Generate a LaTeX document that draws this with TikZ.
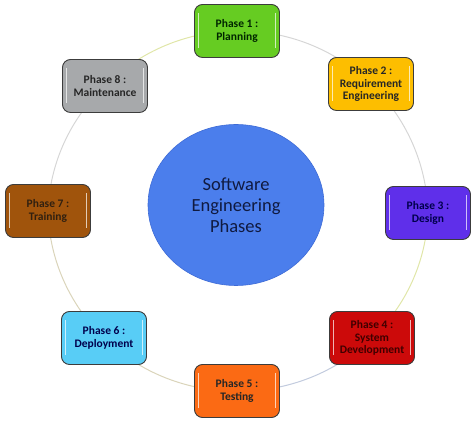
\documentclass[tikz,border=0pt]{standalone}
\usepackage{fontspec}
\setmainfont{Carlito}
\usetikzlibrary{shapes.geometric,backgrounds}
\definecolor{cA}{HTML}{66CC22}
\definecolor{cB}{HTML}{FDBE00}
\definecolor{cC}{HTML}{5F2FEA}
\definecolor{cD}{HTML}{CC0A0A}
\definecolor{cE}{HTML}{FB6A14}
\definecolor{cF}{HTML}{58CDF6}
\definecolor{cG}{HTML}{A0540C}
\definecolor{cH}{HTML}{A7A9AB}
\definecolor{boxline}{HTML}{3C3C3C}
\definecolor{hubfill}{HTML}{4B7EEC}
\definecolor{hubline}{HTML}{3E6BD6}
\definecolor{hubtext}{HTML}{101A40}
\definecolor{ringgray}{HTML}{D6D6D6}
\definecolor{ringyel}{HTML}{E0E6A8}
\definecolor{ringblue}{HTML}{C2CBDE}
\definecolor{ringbeige}{HTML}{DAD4BA}
\tikzset{
  phasebox/.style={draw=boxline, line width=0.9pt, rounded corners=8pt,
    minimum width=85pt, minimum height=53pt, inner sep=2pt,
    align=center, font=\bfseries\fontsize{11.5}{12.8}\selectfont,
    path picture={
      \draw[white, opacity=0.7, line width=1.2pt]
        ([xshift=4pt,yshift=-9pt]path picture bounding box.north west) --
        ([xshift=4pt,yshift=9pt]path picture bounding box.south west);
      \draw[white, opacity=0.7, line width=1.2pt]
        ([xshift=-4pt,yshift=-9pt]path picture bounding box.north east) --
        ([xshift=-4pt,yshift=9pt]path picture bounding box.south east);
    }},
  hub/.style={ellipse, fill=hubfill, draw=hubline, line width=0.6pt,
    minimum width=176pt, minimum height=161pt, align=center,
    text=hubtext, font=\fontsize{18.5}{21}\selectfont},
  ring/.style={line width=1pt, bend left=22.5, looseness=0.885}
}
\begin{document}
\begin{tikzpicture}[x=1pt,y=1pt]
\useasboundingbox (0,0) rectangle (474,422);
\node[hub] (hub) at (236,217) {Software\\Engineering\\Phases};
\node[phasebox, fill=cA, text={black!85!green}] (p1) at (237,391) {Phase 1 :\\Planning};
\node[phasebox, fill=cB, text=black!85] (p2) at (371,338) {Phase 2 :\\Requirement\\Engineering};
\node[phasebox, fill=cC, text={black!70!blue}] (p3) at (428,209) {Phase 3 :\\Design};
\node[phasebox, fill=cD, text={black!75!red}] (p4) at (372,84) {Phase 4 :\\System\\Development};
\node[phasebox, fill=cE, text=black!85] (p5) at (237,31) {Phase 5 :\\Testing};
\node[phasebox, fill=cF, text={black!70!blue}] (p6) at (104,84) {Phase 6 :\\Deployment};
\node[phasebox, fill=cG, text={black!75!brown}] (p7) at (48,211) {Phase 7 :\\Training};
\node[phasebox, fill=cH, text=black!85] (p8) at (105,336) {Phase 8 :\\Maintenance};
\begin{scope}[on background layer]
\draw[ring, draw=ringgray] (p1.center) to (p2.center);
\draw[ring, draw=ringgray] (p2.center) to (p3.center);
\draw[ring, draw=ringyel] (p3.center) to (p4.center);
\draw[ring, draw=ringblue] (p4.center) to (p5.center);
\draw[ring, draw=ringbeige] (p5.center) to (p6.center);
\draw[ring, draw=ringbeige] (p6.center) to (p7.center);
\draw[ring, draw=ringgray] (p7.center) to (p8.center);
\draw[ring, draw=ringyel] (p8.center) to (p1.center);
\end{scope}
\end{tikzpicture}
\end{document}
